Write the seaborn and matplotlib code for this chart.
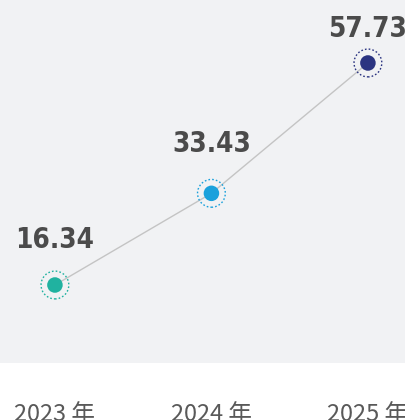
import matplotlib
matplotlib.use("Agg")
import matplotlib.pyplot as plt
import seaborn as sns
import pandas as pd

# data
years = ["2023 年", "2024 年", "2025 年"]
values = [16.34, 33.43, 57.73]
colors = ["#20b2a0", "#1aa1dc", "#2b3481"]
label_offsets = [27, 30, 19]  # points above each marker

BG = "#f1f2f4"

sns.set_theme(style="white")
plt.rcParams["font.family"] = ["Noto Sans CJK SC", "DejaVu Sans"]

df = pd.DataFrame({"x": range(len(years)), "value": values, "year": years})

fig = plt.figure(figsize=(4.05, 4.2), dpi=100)
ax = fig.add_axes([0, 1 - 363 / 420, 1, 363 / 420])
ax.set_facecolor(BG)

sns.lineplot(data=df, x="x", y="value", color="#c4c4c4", linewidth=1.0,
             ax=ax, zorder=1)
# outer dotted ring
for i, r in df.iterrows():
    ax.scatter(r["x"], r["value"], s=400, facecolors="none",
               edgecolors=colors[i], linewidths=1.0,
               linestyles=(0, (1.2, 1.5)), zorder=2)
# inner filled dot
sns.scatterplot(data=df, x="x", y="value", hue="year", palette=colors,
                s=125, edgecolor="none", legend=False, ax=ax, zorder=3)

for i, r in df.iterrows():
    ax.annotate(f"{r['value']:.2f}", (r["x"], r["value"]),
                xytext=(0, label_offsets[i]), textcoords="offset points",
                ha="center", va="baseline", fontsize=20, fontweight="bold",
                color="#4b4b4b", family=["DejaVu Sans"],
                fontstretch="condensed")

ax.set_xlim(-0.351, 2.237)
ax.set_ylim(1.80, 69.47)
ax.set_xticks(df["x"])
ax.set_xticklabels(years, fontsize=17, color="#595959")
ax.tick_params(axis="x", length=0, pad=29)
ax.set_yticks([])
ax.set_xlabel("")
ax.set_ylabel("")
for s in ax.spines.values():
    s.set_visible(False)

fig.savefig("out.png", dpi=100, facecolor="white")
